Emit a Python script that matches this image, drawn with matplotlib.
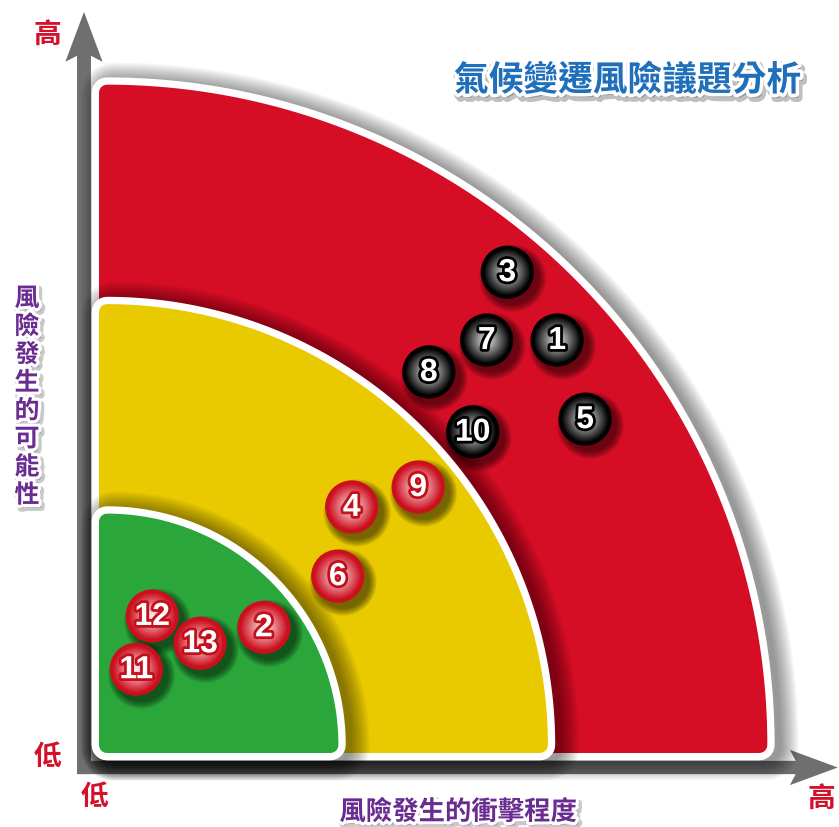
import numpy as np
import matplotlib.pyplot as plt
import matplotlib.patheffects as pe
from matplotlib.patches import Polygon, Circle, FancyArrow

# ------------------------------------------------------------
# 資料
# ------------------------------------------------------------
title = "氣候變遷風險議題分析"
x_label = "風險發生的衝擊程度"
y_label = "風險發生的可能性"

# 風險分區 (外半徑, 顏色), 由外而內
zone_radius = [10.05, 6.75, 3.6]
zone_colors = ["#d50d25", "#e9c900", "#2aa63b"]

# 各議題: 編號、衝擊程度 (x)、發生可能性 (y)
issue_id = [1, 2, 3, 4, 5, 6, 7, 8, 9, 10, 11, 12, 13]
impact = [6.89, 2.48, 6.14, 3.80, 7.31, 3.59, 5.83, 4.96, 4.80, 5.62, 0.56, 0.80, 1.52]
likelihood = [6.21, 1.89, 7.23, 3.70, 5.02, 2.66, 6.21, 5.73, 4.00, 4.83, 1.26, 2.06, 1.65]

# ------------------------------------------------------------
# 版面
# ------------------------------------------------------------
W, H, DPI = 839, 827, 100
PX_PER_UNIT = 66.5
PT_PER_UNIT = PX_PER_UNIT * 72 / DPI
ORIGIN_PX = (99, 753)

CJK = ["Noto Sans CJK TC", "DejaVu Sans"]
RED_TXT = "#d4102a"
PURPLE = "#6a2c91"
BLUE = "#1f6fba"
AXIS_GRAY = "#6f6f6f"

fig = plt.figure(figsize=(W / DPI, H / DPI), dpi=DPI)
ax = fig.add_axes([0, 0, 1, 1])
ax.set_xlim(-ORIGIN_PX[0] / PX_PER_UNIT, (W - ORIGIN_PX[0]) / PX_PER_UNIT)
ax.set_ylim((ORIGIN_PX[1] - H) / PX_PER_UNIT, ORIGIN_PX[1] / PX_PER_UNIT)
ax.set_axis_off()


def quarter_core(radius, corner):
    # 內縮的四分之一圓, 再用圓角粗邊框撐回原尺寸
    inner = radius - 2 * corner
    theta = np.linspace(0, np.pi / 2, 160)
    arc = np.column_stack([corner + inner * np.cos(theta),
                           corner + inner * np.sin(theta)])
    return np.vstack([[corner, corner], arc])


def lw(units):
    return units * PT_PER_UNIT


# ------------------------------------------------------------
# 座標軸箭頭
# ------------------------------------------------------------
ax.add_patch(FancyArrow(-0.226, -0.316, 0, 11.46, width=0.21,
                        head_width=0.56, head_length=0.75, overhang=0.12,
                        length_includes_head=True, color=AXIS_GRAY,
                        lw=0, zorder=1))
ax.add_patch(FancyArrow(-0.33, -0.218, 11.44, 0, width=0.2,
                        head_width=0.53, head_length=0.72, overhang=0.12,
                        length_includes_head=True, color=AXIS_GRAY,
                        lw=0, zorder=1))

# ------------------------------------------------------------
# 風險分區 (陰影 + 白框 + 色塊)
# ------------------------------------------------------------
corner = 0.12
border = 0.11
spread = 0.26
n_shadow = 12

z = 2
for radius, color in zip(zone_radius, zone_colors):
    core = quarter_core(radius, corner)
    shifted = core + np.array([0.1, -0.04])
    for i in range(n_shadow):
        width = 2 * (corner + border + spread * i / (n_shadow - 1))
        ax.add_patch(Polygon(shifted, closed=True, fc="black", ec="black",
                             lw=lw(width), alpha=0.04, joinstyle="round",
                             zorder=z))
    ax.add_patch(Polygon(core, closed=True, fc="white", ec="white",
                         lw=lw(2 * (corner + border)), joinstyle="round",
                         zorder=z + 1))
    ax.add_patch(Polygon(core, closed=True, fc=color, ec=color,
                         lw=lw(2 * corner), joinstyle="round", zorder=z + 2))
    z += 3

# ------------------------------------------------------------
# 議題球
# ------------------------------------------------------------
ball_r = 0.40
n_ring = 30


def mix(c1, c2, t):
    return tuple(a + (b - a) * t for a, b in zip(c1, c2))


black_edge, black_center = (0.0, 0.0, 0.0), (0.95, 0.95, 0.95)
red_edge, red_center = (0.80, 0.06, 0.12), (1.0, 0.96, 0.96)

for num, x, y in zip(issue_id, impact, likelihood):
    in_red = np.hypot(x, y) > zone_radius[1]
    edge, center = (black_edge, black_center) if in_red else (red_edge, red_center)
    outline = "black" if in_red else "#c4101c"

    # 陰影
    for k in range(8):
        ax.add_patch(Circle((x + 0.08, y - 0.09), ball_r + 0.015 * k,
                            fc="black", ec="none", alpha=0.08, zorder=20))
    # 漸層球體
    for k in range(n_ring):
        s = 1 - k / n_ring
        t = np.clip((0.9 - s) / 0.9, 0, 1) ** 1.0
        ax.add_patch(Circle((x, y), ball_r * s, fc=mix(edge, center, t),
                            ec="none", zorder=21))
    ax.text(x, y - 0.015, str(num), ha="center", va="center",
            fontsize=23, fontweight="bold", family="Liberation Sans",
            color="white", zorder=22,
            path_effects=[pe.Stroke(linewidth=4, foreground=outline),
                          pe.Normal()])

# ------------------------------------------------------------
# 文字
# ------------------------------------------------------------
label_fx = [pe.Stroke(linewidth=5, foreground="#888888", alpha=0.45,
                      offset=(2, -2.5)),
            pe.Stroke(linewidth=4.5, foreground="white"),
            pe.Normal()]

ax.text(7.95, 10.12, title, ha="center", va="center", fontsize=25,
        fontweight="bold", family=CJK, color=BLUE, zorder=30,
        path_effects=[pe.Stroke(linewidth=6, foreground="#808080", alpha=0.5,
                                offset=(2, -3)),
                      pe.Stroke(linewidth=5, foreground="white"),
                      pe.Normal()])

ax.text(5.4, -0.89, x_label, ha="center", va="center", fontsize=19,
        fontweight="bold", family=CJK, color=PURPLE, zorder=30,
        path_effects=label_fx)

y_top, y_step = 6.83, 28.1 / PX_PER_UNIT
for i, ch in enumerate(y_label):
    ax.text(-1.083, y_top - i * y_step, ch, ha="center", va="center",
            fontsize=18, fontweight="bold", family=CJK, color=PURPLE,
            zorder=30, path_effects=label_fx)

for txt, x, y in [("高", -0.78, 10.78), ("低", -0.78, -0.06),
                  ("低", -0.06, -0.66), ("高", 10.87, -0.71)]:
    ax.text(x, y, txt, ha="center", va="center", fontsize=20,
            fontweight="bold", family=CJK, color=RED_TXT, zorder=30)

fig.savefig("out.png", dpi=DPI)
